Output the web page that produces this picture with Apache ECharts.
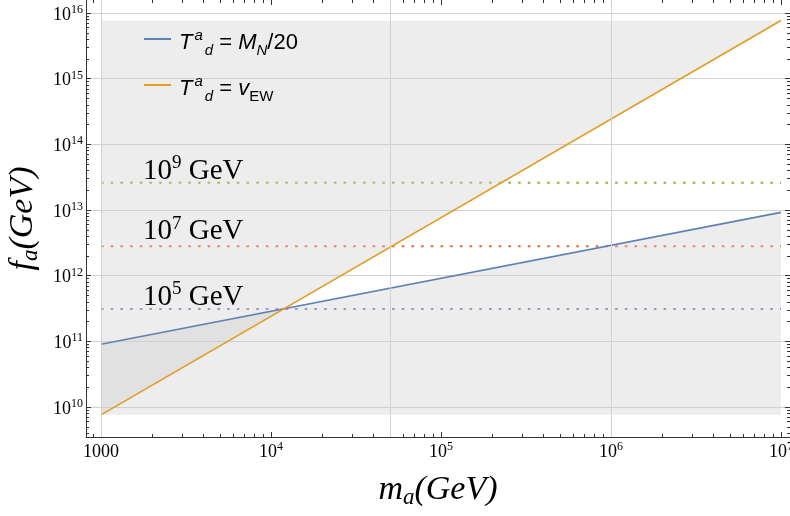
<!DOCTYPE html>
<html>
<head>
<meta charset="utf-8">
<script src="https://cdn.jsdelivr.net/npm/echarts@6/dist/echarts.min.js"></script>
<style>
  html, body { margin: 0; padding: 0; background: #ffffff; }
  #c { width: 790px; height: 516px; }
</style>
</head>
<body>
<div id="c"></div>
<script>
// Axion mass m_a (GeV) at the two ends of each power-law curve
const massEnds = [1e3, 1e7];
// f_a (GeV) for T^a_d = M_N/20
const fMN20 = [9.0e10, 9.2e12];
// f_a (GeV) for T^a_d = v_EW
const fVEW = [7.6e9, 7.7e15];
// Reference decay temperatures (exponent of GeV) and their f_a levels
const tempExponents = [9, 7, 5];
const tempF = [2.6e13, 2.8e12, 3.1e11];
// Tick values
const xMajorTicks = [1e3, 1e4, 1e5, 1e6, 1e7];
const yMajorTicks = [1e10, 1e11, 1e12, 1e13, 1e14, 1e15, 1e16];
const xGridValues = [1e3, 5e4, 1e6];

// ---- layout / style ----
const X_LOG = [2.9118, 7.0529];
const Y_LOG = [9.5432, 16.1977];
const xMin = Math.pow(10, X_LOG[0]), xMax = Math.pow(10, X_LOG[1]);
const yMin = Math.pow(10, Y_LOG[0]), yMax = Math.pow(10, Y_LOG[1]);
const tempColors = ['#8fb032', '#eb6235', '#8778b3'];
const tempLabelLift = [5, 8, 5.5];
const serif = '"Liberation Serif", "Times New Roman", serif';
const sans = '"Liberation Sans", Arial, sans-serif';
const axisColor = '#333333';
const shade = 'rgba(207,207,207,0.52)';

function minorTicks(range) {
  const out = [];
  for (let e = Math.floor(range[0]); e <= Math.ceil(range[1]); e++) {
    for (let k = 2; k <= 9; k++) {
      const v = k * Math.pow(10, e);
      const l = Math.log10(v);
      if (l > range[0] && l < range[1]) out.push(v);
    }
  }
  return out;
}
const xMinor = minorTicks(X_LOG);
const yMinor = minorTicks(Y_LOG);

function powLabel(v) {
  const e = Math.round(Math.log10(v));
  return e === 3 ? '{b|1000}' : '{b|10}{s|' + e + '}';
}
const tickRich = {
  b: { fontFamily: serif, fontSize: 18, lineHeight: 18, padding: [2, 0, 0, 0], verticalAlign: 'top', color: '#000' },
  s: { fontFamily: serif, fontSize: 12, lineHeight: 12, verticalAlign: 'top', color: '#000' }
};
const titleRich = {
  i: { fontFamily: serif, fontStyle: 'italic', fontSize: 34, lineHeight: 34, verticalAlign: 'top', color: '#000' },
  sub: { fontFamily: serif, fontStyle: 'italic', fontSize: 23, lineHeight: 23, padding: [13, 0, 0, 0], verticalAlign: 'top', color: '#000' }
};

// one tick-only frame axis (major or minor ticks)
function frameAxis(position, extent, ticks, len, showLine) {
  return {
    type: 'log', position: position, min: extent[0], max: extent[1],
    axisLine: { show: showLine, lineStyle: { color: axisColor, width: 1 } },
    axisTick: { show: true, inside: true, length: len, customValues: ticks, lineStyle: { color: axisColor, width: 1 } },
    axisLabel: { show: false },
    splitLine: { show: false }
  };
}

const chart = echarts.init(document.getElementById('c'));

const xMain = Object.assign(frameAxis('bottom', [xMin, xMax], xMajorTicks, 5, true), {
  axisLabel: { show: true, customValues: xMajorTicks, formatter: powLabel, rich: tickRich, margin: 4 },
  name: '{i|m}{sub|a}{i|(GeV)}', nameLocation: 'middle', nameGap: 36,
  nameTextStyle: { rich: titleRich }
});
const yMain = Object.assign(frameAxis('left', [yMin, yMax], yMajorTicks, 5, true), {
  axisLabel: { show: true, customValues: yMajorTicks, formatter: powLabel, rich: tickRich, margin: 3 },
  splitLine: { show: true, lineStyle: { color: '#d2d2d2', width: 1 } },
  name: '{i|f}{sub|a}{i|(GeV)}', nameLocation: 'middle', nameGap: 43,
  nameTextStyle: { rich: titleRich }
});

const series = [
  {
    name: 'gridlines', type: 'line', data: [], z: 1, silent: true,
    markLine: {
      silent: true, symbol: 'none', animation: false,
      label: { show: false },
      lineStyle: { color: '#d2d2d2', width: 1, type: 'solid' },
      data: xGridValues.map(v => ({ xAxis: v }))
    }
  },
  {
    name: 'MN20', type: 'line', z: 3, symbol: 'none',
    data: massEnds.map((m, i) => [m, fMN20[i]]),
    lineStyle: { color: '#5e81b5', width: 1.6 },
    itemStyle: { color: '#5e81b5' },
    areaStyle: { color: shade, origin: Math.min(...fVEW) }
  },
  {
    name: 'VEW', type: 'line', z: 3, symbol: 'none',
    data: massEnds.map((m, i) => [m, fVEW[i]]),
    lineStyle: { color: '#e19c24', width: 1.6 },
    itemStyle: { color: '#e19c24' },
    areaStyle: { color: shade, origin: Math.max(...fVEW) }
  }
];
tempF.forEach((f, i) => {
  series.push({
    name: 'T' + tempExponents[i], type: 'line', z: 2, symbol: 'none', silent: true,
    data: massEnds.map(m => [m, f]),
    lineStyle: { color: tempColors[i], width: 2, type: [2.6, 7.1] }
  });
});

const legendRich = {
  it: { fontFamily: sans, fontStyle: 'italic', fontSize: 22, lineHeight: 22, padding: [4, 0, 0, 0], verticalAlign: 'top', color: '#000' },
  n: { fontFamily: sans, fontSize: 22, lineHeight: 22, padding: [4, 0, 0, 0], verticalAlign: 'top', color: '#000' },
  sup: { fontFamily: sans, fontStyle: 'italic', fontSize: 15, lineHeight: 15, padding: [0, 2, 0, 2], verticalAlign: 'top', color: '#000' },
  sub: { fontFamily: sans, fontStyle: 'italic', fontSize: 15, lineHeight: 15, padding: [15, 0, 0, 0], verticalAlign: 'top', color: '#000' },
  subr: { fontFamily: sans, fontSize: 15, lineHeight: 15, padding: [15, 0, 0, 0], verticalAlign: 'top', color: '#000' }
};
const legendText = {
  MN20: '{it|T}{sup|a}{sub|d}{n| = }{it|M}{sub|N}{n|/20}',
  VEW: '{it|T}{sup|a}{sub|d}{n| = }{it|v}{subr|EW}'
};

chart.setOption({
  animation: false,
  backgroundColor: '#ffffff',
  grid: { left: 86, right: 0, top: 0, bottom: 79, containLabel: false, outerBoundsMode: 'none' },
  xAxis: [
    xMain,
    frameAxis('bottom', [xMin, xMax], xMinor, 3, false),
    frameAxis('top', [xMin, xMax], xMajorTicks, 5, false),
    frameAxis('top', [xMin, xMax], xMinor, 3, false)
  ],
  yAxis: [
    yMain,
    frameAxis('left', [yMin, yMax], yMinor, 3, false),
    frameAxis('right', [yMin, yMax], yMajorTicks, 5, false),
    frameAxis('right', [yMin, yMax], yMinor, 3, false)
  ],
  legend: {
    data: ['MN20', 'VEW'], orient: 'vertical', left: 139, top: 23,
    itemWidth: 27, itemHeight: 14, itemGap: 16,
    icon: 'path://M0,6L27,6L27,8L0,8Z',
    formatter: name => legendText[name],
    textStyle: { rich: legendRich, padding: [0, 0, 0, 3] },
    selectedMode: false
  },
  series: series
});

// temperature labels placed just above their dotted levels
const labelRich = {
  b: { fontFamily: serif, fontSize: 29, lineHeight: 29, padding: [3, 0, 0, 0], verticalAlign: 'top', color: '#000' },
  s: { fontFamily: serif, fontSize: 19, lineHeight: 19, verticalAlign: 'top', color: '#000' }
};
const graphics = tempF.map((f, i) => {
  const p = chart.convertToPixel({ xAxisIndex: 0, yAxisIndex: 0 }, [massEnds[0], f]);
  return {
    type: 'text', silent: true, z: 100,
    style: {
      x: p[0] + 42, y: p[1] - tempLabelLift[i] + 5,
      text: '{b|10}{s|' + tempExponents[i] + '}{b| GeV}',
      rich: labelRich, fill: '#000', verticalAlign: 'bottom', align: 'left'
    }
  };
});
chart.setOption({ graphic: graphics });
</script>
</body>
</html>
